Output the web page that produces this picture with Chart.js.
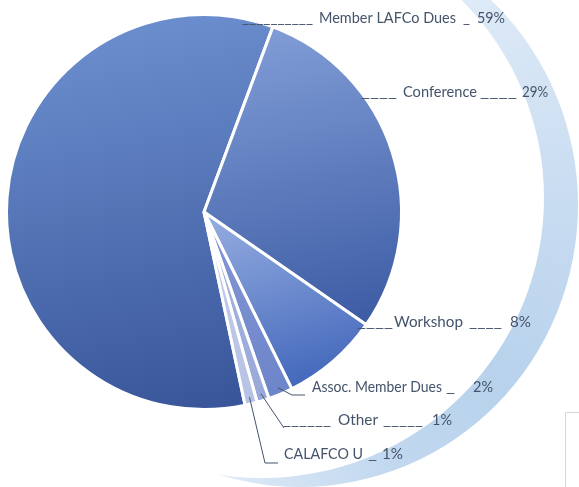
<!DOCTYPE html>
<html>
<head>
<meta charset="utf-8">
<script src="https://cdn.jsdelivr.net/npm/chart.js@4.4.1/dist/chart.umd.min.js"></script>
<style>
  html, body { margin: 0; padding: 0; background: #ffffff; }
  #wrap { width: 579px; height: 487px; }
</style>
</head>
<body>
<div id="wrap"><canvas id="budget" width="579" height="487"></canvas></div>
<script>
// Revenue sources, in percent of the total budget
const categories = ['Member LAFCo Dues', 'Conference', 'Workshop', 'Assoc. Member Dues', 'Other', 'CALAFCO U'];
const shares = [59, 29, 8, 2, 1, 1];
// Underscore runs typed before the name and between the name and the share
const leadIn = ['__________', '____', '____', '', '______', ''];
const leadMid = ['_', '____', '____', '_', '_____', '_'];

// Slice shading: light tone at the top of each slice, dark tone at the bottom
const lightTones = ['#6d90d0', '#819dd7', '#90a9de', '#8598d4', '#a8b6e0', '#c4ceea'];
const darkTones  = ['#39569a', '#3d5ca4', '#4065ba', '#6c84c9', '#97a8da', '#b6c2e5'];

const ROTATION = 168;
const TEXT = '#44546a';
const FONT = '15px Lato';

function sliceGradient(ctx) {
  const chart = ctx.chart;
  const area = chart.chartArea;
  const i = ctx.dataIndex;
  if (!area) return darkTones[i];
  const cx = (area.left + area.right) / 2;
  const cy = (area.top + area.bottom) / 2;
  const r = Math.min(area.right - area.left, area.bottom - area.top) / 2;
  const total = shares.reduce((a, b) => a + b, 0);
  let before = 0;
  for (let k = 0; k < i; k++) before += shares[k];
  const a0 = (ROTATION - 90) * Math.PI / 180 + before / total * 2 * Math.PI;
  const a1 = a0 + shares[i] / total * 2 * Math.PI;
  // bounding box of the wedge
  const xs = [cx, cx + r * Math.cos(a0), cx + r * Math.cos(a1)];
  const ys = [cy, cy + r * Math.sin(a0), cy + r * Math.sin(a1)];
  for (let q = -4; q <= 8; q++) {
    const a = q * Math.PI / 2;
    if (a > a0 && a < a1) { xs.push(cx + r * Math.cos(a)); ys.push(cy + r * Math.sin(a)); }
  }
  const x0 = Math.min(...xs), x1 = Math.max(...xs);
  const y0 = Math.min(...ys), y1 = Math.max(...ys);
  const g = chart.ctx.createLinearGradient(x0 + (x1 - x0) * 0.35, y0, x0 + (x1 - x0) * 0.65, y1);
  g.addColorStop(0, lightTones[i]);
  g.addColorStop(1, darkTones[i]);
  return g;
}

// Pale crescent swept around the right side of the pie
const crescent = {
  id: 'crescent',
  beforeDraw(chart) {
    const c = chart.ctx;
    c.save();
    c.beginPath();
    c.ellipse(300, 205, 278, 282, 0, 0, Math.PI * 2);
    c.clip();
    c.beginPath();
    c.rect(0, 0, chart.width, chart.height);
    c.ellipse(262, 198, 282, 280, 0, 0, Math.PI * 2);
    const g = c.createConicGradient(-Math.PI / 2, 290, 205);
    g.addColorStop(0.0, '#f5f9fd');
    g.addColorStop(0.08, '#e4eef9');
    g.addColorStop(0.25, '#c8dcf1');
    g.addColorStop(0.36, '#b8d2ec');
    g.addColorStop(0.44, '#c1d8ef');
    g.addColorStop(0.52, '#d8e6f5');
    g.addColorStop(0.58, '#f0f5fb');
    g.addColorStop(1.0, '#f5f9fd');
    c.fillStyle = g;
    c.fill('evenodd');
    c.restore();

    // thin grey frame peeking in at the lower right corner
    c.save();
    c.strokeStyle = '#d6d6d6';
    c.lineWidth = 1;
    c.beginPath();
    c.moveTo(565.5, chart.height);
    c.lineTo(565.5, 412.5);
    c.lineTo(chart.width, 412.5);
    c.stroke();
    c.restore();
  }
};

// Label layout: y = text middle; pre, name, mid and val are the x spans
// of the leading underscores, the name, the middle underscores and the share
const labelLayout = [
  { y: 18,  pre: [242, 313], name: [319, 456], mid: [463, 470], val: [477, 505] },
  { y: 92,  pre: [361, 397], name: [403, 477], mid: [480, 517], val: [522, 548] },
  { y: 322, pre: [357, 393], name: [394, 463], mid: [469, 502], val: [510, 531] },
  { y: 387, name: [312, 442], mid: [446, 455], val: [473, 493], path: [[292, 395], [305, 395]] },
  { y: 420, pre: [283, 331], name: [338, 378], mid: [383, 423], val: [432, 452], path: [[284, 428]] },
  { y: 454, name: [284, 363], mid: [368, 377], val: [382, 403], path: [[265, 463], [278, 463]] }
];

function fitText(c, text, span, y) {
  const w = c.measureText(text).width;
  c.save();
  c.translate(span[0], y);
  c.scale((span[1] - span[0]) / w, 1);
  c.fillText(text, 0, 0);
  c.restore();
}

const sliceLabels = {
  id: 'sliceLabels',
  afterDraw(chart) {
    const c = chart.ctx;
    const arcs = chart.getDatasetMeta(0).data;
    c.save();
    c.font = FONT;
    c.fillStyle = TEXT;
    c.strokeStyle = TEXT;
    c.lineWidth = 1;
    c.textBaseline = 'middle';
    c.textAlign = 'left';
    categories.forEach((name, i) => {
      const L = labelLayout[i];
      if (leadIn[i]) fitText(c, leadIn[i], L.pre, L.y);
      fitText(c, name, L.name, L.y);
      fitText(c, leadMid[i], L.mid, L.y);
      fitText(c, shares[i] + '%', L.val, L.y);
      if (L.path) {
        const el = arcs[i];
        const mid = (el.startAngle + el.endAngle) / 2;
        const rr = el.outerRadius * 0.965;
        c.beginPath();
        c.moveTo(el.x + rr * Math.cos(mid), el.y + rr * Math.sin(mid));
        L.path.forEach(p => c.lineTo(p[0], p[1]));
        c.stroke();
      }
    });
    c.restore();
  }
};

new Chart(document.getElementById('budget'), {
  type: 'pie',
  data: {
    labels: categories,
    datasets: [{
      data: shares,
      backgroundColor: sliceGradient,
      borderColor: '#ffffff',
      borderWidth: 3
    }]
  },
  options: {
    responsive: false,
    devicePixelRatio: 1,
    animation: false,
    rotation: ROTATION,
    layout: { padding: { left: 5, top: 13, right: 176, bottom: 76 } },
    plugins: {
      legend: { display: false },
      tooltip: { enabled: false }
    }
  },
  plugins: [crescent, sliceLabels]
});
</script>
</body>
</html>
